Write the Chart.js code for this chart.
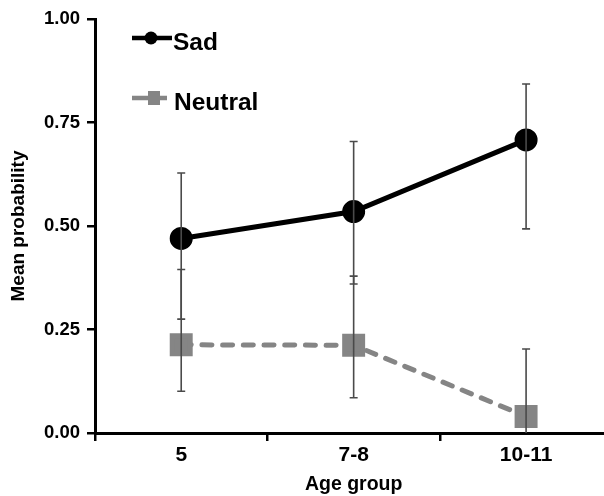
<!DOCTYPE html>
<html>
<head>
<meta charset="utf-8">
<script src="https://cdn.jsdelivr.net/npm/chart.js@4.4.1/dist/chart.umd.min.js"></script>
<style>
html,body{margin:0;padding:0;background:#fff;overflow:hidden;width:604px;height:496px;}
#wrap{width:630px;height:496px;}
</style>
</head>
<body>
<div id="wrap"><canvas id="c" width="630" height="496"></canvas></div>
<script>
const categories = ['5', '7-8', '10-11'];
const sadMean = [0.470, 0.535, 0.708];
const sadUpper = [0.628, 0.704, 0.843];
const sadLower = [0.275, 0.360, 0.493];
const neutralMean = [0.213, 0.212, 0.040];
const neutralUpper = [0.395, 0.379, 0.203];
const neutralLower = [0.101, 0.085, 0.000];
const yTicks = [0, 0.25, 0.5, 0.75, 1.0];

const FONT = "'Liberation Sans', Arial, sans-serif";

const errorBars = {
  id: 'errorBars',
  afterDatasetsDraw(chart) {
    const ctx = chart.ctx;
    const y = chart.scales.y;
    const sets = [[sadLower, sadUpper], [neutralLower, neutralUpper]];
    ctx.save();
    ctx.strokeStyle = '#4a4a4a';
    ctx.lineWidth = 1.6;
    sets.forEach((s, di) => {
      const meta = chart.getDatasetMeta(di);
      meta.data.forEach((pt, i) => {
        const x = pt.x;
        const yl = y.getPixelForValue(s[0][i]);
        const yh = y.getPixelForValue(s[1][i]);
        ctx.beginPath();
        ctx.moveTo(x, yl); ctx.lineTo(x, yh);
        if (s[0][i] > 0) { ctx.moveTo(x - 4, yl); ctx.lineTo(x + 4, yl); }
        ctx.moveTo(x - 4, yh); ctx.lineTo(x + 4, yh);
        ctx.stroke();
      });
    });
    ctx.restore();
  }
};

const legendPlugin = {
  id: 'customLegend',
  afterDraw(chart) {
    const ctx = chart.ctx;
    ctx.save();
    ctx.strokeStyle = '#000'; ctx.lineWidth = 4.5;
    ctx.beginPath(); ctx.moveTo(132, 38); ctx.lineTo(172, 38); ctx.stroke();
    ctx.fillStyle = '#000';
    ctx.beginPath(); ctx.arc(151, 38, 6.5, 0, Math.PI * 2); ctx.fill();
    ctx.font = 'bold 24.5px ' + FONT;
    ctx.textBaseline = 'alphabetic';
    ctx.fillText('Sad', 173, 50);
    ctx.strokeStyle = '#858585'; ctx.lineWidth = 4.5;
    ctx.beginPath(); ctx.moveTo(132, 98); ctx.lineTo(167, 98); ctx.stroke();
    ctx.fillStyle = '#858585';
    ctx.fillRect(148, 91, 12, 14);
    ctx.fillStyle = '#000';
    ctx.fillText('Neutral', 174, 110);
    ctx.restore();
  }
};

new Chart(document.getElementById('c'), {
  type: 'line',
  data: {
    labels: categories,
    datasets: [
      {
        label: 'Sad',
        data: sadMean,
        borderColor: '#000',
        backgroundColor: '#000',
        borderWidth: 5,
        pointStyle: 'circle',
        pointRadius: 9,
        pointHoverRadius: 9,
        tension: 0
      },
      {
        label: 'Neutral',
        data: neutralMean,
        borderColor: '#858585',
        backgroundColor: '#858585',
        borderWidth: 5,
        borderDash: [10, 10.7],
        borderCapStyle: 'round',
        pointStyle: 'rect',
        pointRadius: 12.7,
        pointHoverRadius: 12.7,
        tension: 0
      }
    ]
  },
  options: {
    responsive: false,
    animation: false,
    events: [],
    layout: { padding: { left: 0, top: 19, right: 8, bottom: 0 } },
    plugins: { legend: { display: false }, tooltip: { enabled: false } },
    scales: {
      x: {
        type: 'category',
        offset: true,
        grid: { display: true, drawOnChartArea: false, offset: true, color: '#000', lineWidth: 2.5, tickLength: 8 },
        border: { display: true, color: '#000', width: 3 },
        ticks: { color: '#000', font: { family: FONT, size: 21, weight: 'bold' }, padding: 2 },
        title: { display: true, text: 'Age group', color: '#000', font: { family: FONT, size: 19.5, weight: 'bold' }, padding: { top: 0, bottom: 0 } },
        afterFit(s) { s.height = 63; }
      },
      y: {
        min: 0, max: 1,
        afterBuildTicks(s) { s.ticks = yTicks.map(v => ({ value: v })); },
        grid: { display: true, drawOnChartArea: false, color: '#000', lineWidth: 2.5, tickLength: 8 },
        border: { display: true, color: '#000', width: 3 },
        ticks: { color: '#000', font: { family: FONT, size: 18.5, weight: 'bold' }, padding: 7, callback: v => Number(v).toFixed(2) },
        title: { display: true, text: 'Mean probability', color: '#000', font: { family: FONT, size: 19, weight: 'bold' }, padding: { top: 7, bottom: 0 } },
        afterFit(s) { s.width = 95; }
      }
    }
  },
  plugins: [errorBars, legendPlugin]
});
</script>
</body>
</html>
